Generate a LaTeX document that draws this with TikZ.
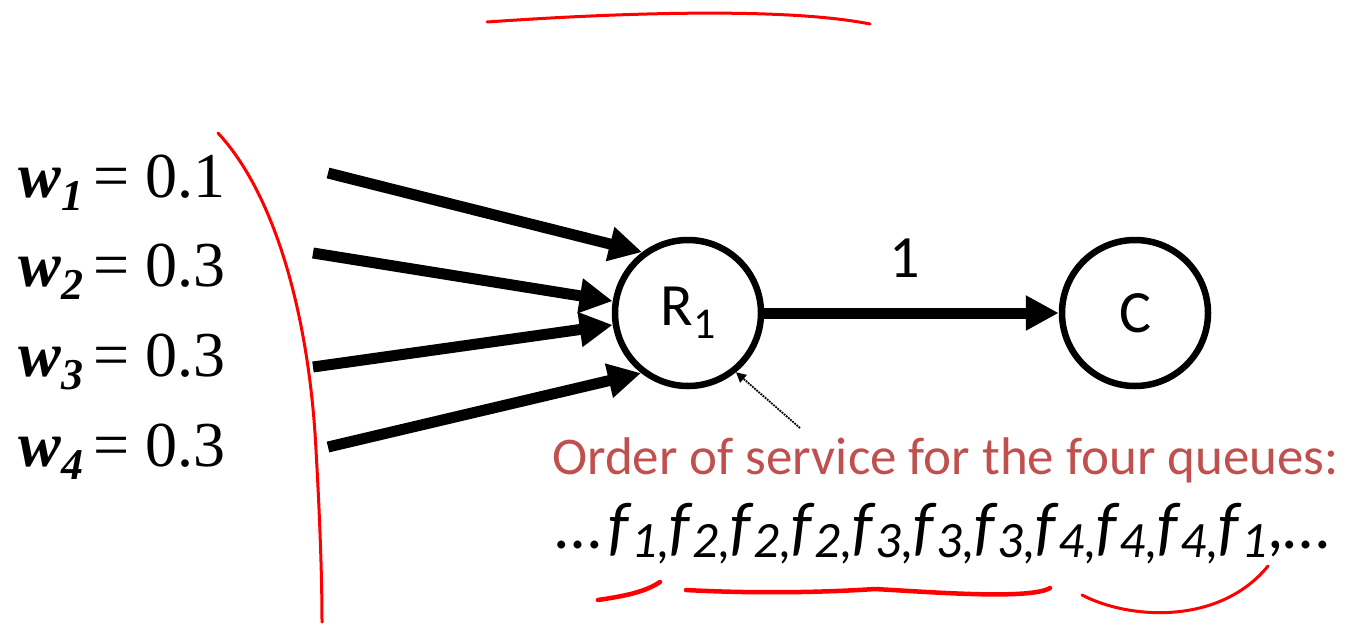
\documentclass[tikz,border=0pt]{standalone}
\usepackage{fontspec}
\setmainfont{Liberation Serif}
\newfontfamily\calfont{Carlito}
\usetikzlibrary{arrows.meta}
\definecolor{note}{RGB}{192,80,77}
\newcommand{\wlab}[2]{\textbf{\textit{w}}\raisebox{-13pt}{\fontsize{44}{44}\selectfont\textbf{\textit{#1}}}\,= #2}
\newcommand{\fs}[1]{\textit{f}\kern-1pt\raisebox{-9pt}{\fontsize{51}{51}\selectfont\textit{#1,}}}
\begin{document}
\begin{tikzpicture}[x=1pt,y=-1pt,
  wnode/.style={anchor=base west,inner sep=0,font=\fontsize{64}{64}\selectfont},
  router/.style={circle,draw,line width=6.5pt,minimum size=146pt,inner sep=0,font=\calfont\fontsize{60}{60}\selectfont},
  flow/.style={line width=11pt,-{Triangle[length=33pt,width=33pt]}},
  ink/.style={red,line width=3pt,line cap=round},
  inkb/.style={red,line width=4.5pt,line cap=round}]
\useasboundingbox (0,0) rectangle (1346,627);
\node[wnode] (w1) at (18,197) {\wlab{1}{0.1}};
\node[wnode] (w2) at (18,286) {\wlab{2}{0.3}};
\node[wnode] (w3) at (18,376) {\wlab{3}{0.3}};
\node[wnode] (w4) at (18,466) {\wlab{4}{0.3}};
\node[router] (r1) at (688,313) {R\raisebox{-13pt}{\fontsize{44}{44}\selectfont 1}};
\node[router] (c) at (1135,313) {C};
\coordinate (s1) at (328,173);
\coordinate (s2) at (313,253);
\coordinate (s3) at (313,367);
\coordinate (s4) at (328,447);
\draw[flow] (s1) -- (r1.127);
\draw[flow] (s2) -- (r1.171);
\draw[flow] (s3) -- (r1.189);
\draw[flow] (s4) -- (r1.232);
\draw[flow] (r1) -- (c);
\node[font=\calfont\fontsize{60}{60}\selectfont,inner sep=0] (one) at (905,258) {1};
\node[anchor=base west,inner sep=0,text=note,font=\calfont\fontsize{53}{53}\selectfont] (order) at (552,474) {Order of service for the four queues:};
\node[anchor=base west,inner sep=0,font=\calfont\fontsize{66}{66}\selectfont] (seq) at (555,548) {…\kern8pt\fs{1}\fs{2}\fs{2}\fs{2}\fs{3}\fs{3}\fs{3}\fs{4}\fs{4}\fs{4}\textit{f}\kern-1pt\raisebox{-9pt}{\fontsize{51}{51}\selectfont\textit{1}},…};
\coordinate (ptr) at (800,428);
\draw[densely dotted,line width=1.8pt,-{Triangle[length=10pt,width=10pt]}] (ptr) -- (r1.-51);
% red ink
\draw[ink] (218,133) .. controls (280,200) and (310,330) .. (316,450) .. controls (320,520) and (322,580) .. (322,622);
\draw[ink] (487,22) .. controls (600,14) and (780,6) .. (870,24);
\draw[inkb] (598,600) .. controls (625,596) and (645,592) .. (660,582);
\draw[inkb] (686,590) .. controls (760,594) and (830,592) .. (875,589) .. controls (930,592) and (1030,600) .. (1050,588);
\draw[ink] (1082,595) .. controls (1130,620) and (1220,625) .. (1268,566);
\end{tikzpicture}
\end{document}
